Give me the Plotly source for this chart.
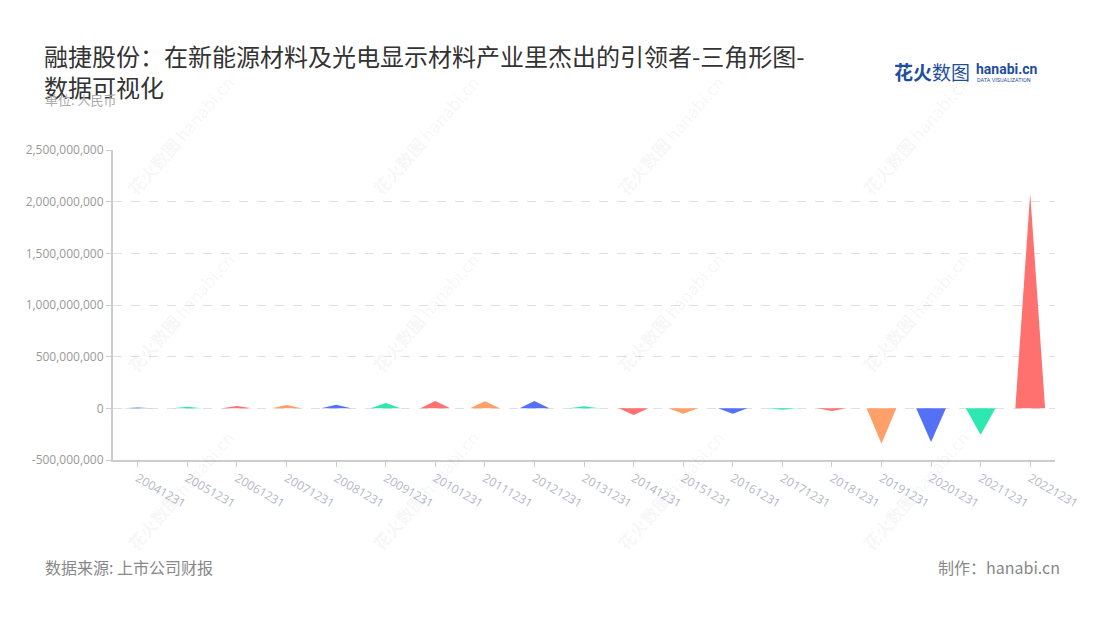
import plotly.graph_objects as go

categories = ["20041231", "20051231", "20061231", "20071231", "20081231", "20091231",
              "20101231", "20111231", "20121231", "20131231", "20141231", "20151231",
              "20161231", "20171231", "20181231", "20191231", "20201231", "20211231",
              "20221231"]
values = [8e6, 15e6, 22e6, 32e6, 35e6, 52e6, 71e6, 68e6, 71e6, 19e6, -65e6, -52e6,
          -52e6, -13e6, -26e6, -342e6, -326e6, -255e6, 2080e6]
palette = ["#5470F5", "#2EE8B2", "#FF716F", "#FFA06A"]
y_ticks = [-500e6, 0, 500e6, 1000e6, 1500e6, 2000e6, 2500e6]
y_ticktext = ["-500,000,000", "0", "500,000,000", "1,000,000,000", "1,500,000,000",
              "2,000,000,000", "2,500,000,000"]

# page body has an 8px margin; compensate so the figure lands where the reference is
OFF = 8
W, H = 1100 - OFF, 620 - OFF
L, R, T, B = 113, 1055, 150, 460   # plot area in screen pixels
CJK = "Noto Sans CJK SC, Noto Sans, sans-serif"

fig = go.Figure()
half = 0.3
for i, (c, v) in enumerate(zip(categories, values)):
    col = palette[i % len(palette)]
    fig.add_trace(go.Scatter(
        x=[i - half, i, i + half, i - half], y=[0, v, 0, 0],
        mode="lines", fill="toself", fillcolor=col,
        line=dict(width=0, color=col), hoverinfo="skip", showlegend=False, name=c))


def px(x):
    return (x - L) / (R - L)


def py(y):
    return (B - y) / (B - T)


ann = []
# title (two lines in one text block)
ann.append(dict(text="融捷股份：在新能源材料及光电显示材料产业里杰出的引领者-三角形图-<br>数据可视化",
                x=px(42), y=py(70.5), xref="paper", yref="paper", xanchor="left",
                yanchor="middle", align="left",
                showarrow=False, font=dict(family=CJK, size=24, color="#333333")))
ann.append(dict(text="单位: 人民币", x=px(43), y=py(99), xref="paper", yref="paper",
                xanchor="left", yanchor="middle", showarrow=False,
                font=dict(family=CJK, size=13, color="#aaaaaa")))
# logo
ann.append(dict(text="<b>花火</b>数图", x=px(892), y=py(72), xref="paper", yref="paper",
                xanchor="left", yanchor="middle", showarrow=False,
                font=dict(family=CJK, size=19, color="#1F4E9E")))
ann.append(dict(text="<b>hanabi.cn</b>", x=px(974), y=py(69), xref="paper", yref="paper",
                xanchor="left", yanchor="middle", showarrow=False,
                font=dict(family="Roboto, sans-serif", size=14, color="#1F4E9E")))
ann.append(dict(text="DATA VISUALIZATION", x=px(975), y=py(80), xref="paper", yref="paper",
                xanchor="left", yanchor="middle", showarrow=False,
                font=dict(family="Roboto, sans-serif", size=5.5, color="#1F4E9E")))
# footer
ann.append(dict(text="数据来源: 上市公司财报", x=px(43), y=py(567), xref="paper", yref="paper",
                xanchor="left", yanchor="middle", showarrow=False,
                font=dict(family=CJK, size=16, color="#888888")))
ann.append(dict(text="制作：hanabi.cn", x=px(1062), y=py(567), xref="paper", yref="paper",
                xanchor="right", yanchor="middle", showarrow=False,
                font=dict(family=CJK, size=16, color="#888888")))
# watermarks
for cx in [180, 425, 670, 915]:
    for cy in [135, 312, 490]:
        ann.append(dict(text="<b>花火数图</b> hanabi.cn", x=px(cx), y=py(cy), xref="paper",
                        yref="paper", xanchor="center", yanchor="middle", showarrow=False,
                        textangle=-49,
                        font=dict(family=CJK, size=17, color="rgba(0,0,0,0.055)")))

fig.update_layout(
    width=W, height=H,
    margin=dict(l=L - OFF, r=W - (R - OFF), t=T - OFF, b=H - (B - OFF)),
    paper_bgcolor="white", plot_bgcolor="white",
    annotations=ann,
    showlegend=False,
    font=dict(family=CJK),
    xaxis=dict(
        range=[-0.5, len(categories) - 0.5],
        tickvals=list(range(len(categories))), ticktext=categories,
        tickangle=30, showgrid=False, zeroline=False,
        showline=True, linecolor="#cccccc", linewidth=2,
        ticks="outside", ticklen=5, tickcolor="#cccccc",
        tickfont=dict(family="Open Sans, sans-serif", size=12, color="#b4b8c8"),
        fixedrange=True,
    ),
    yaxis=dict(
        range=[-500e6, 2500e6],
        tickvals=y_ticks, ticktext=y_ticktext,
        showgrid=True, gridcolor="#e0e0e0", griddash="dash", gridwidth=1,
        zeroline=False,
        showline=True, linecolor="#cccccc", linewidth=2,
        ticks="outside", ticklen=5, tickcolor="#cccccc",
        tickfont=dict(family="Open Sans, sans-serif", size=12, color="#999999"),
        fixedrange=True,
    ),
)

fig.write_html("out.html")
